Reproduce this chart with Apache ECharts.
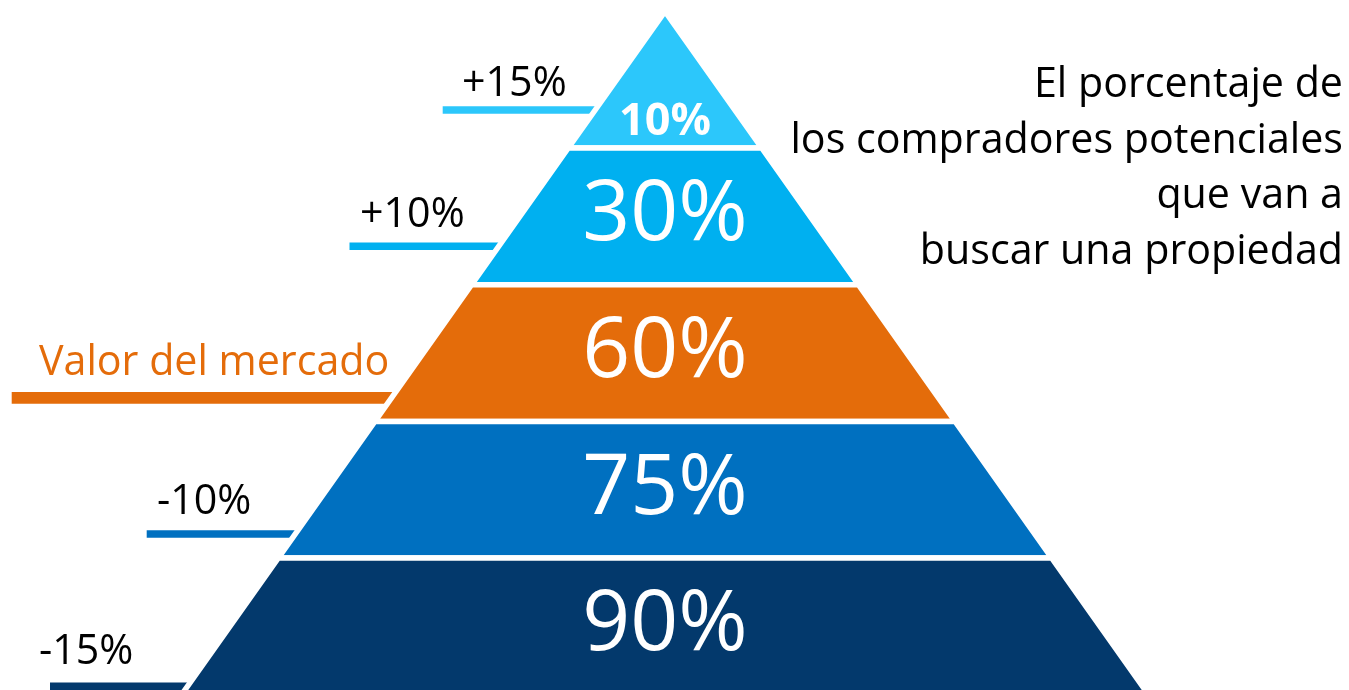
<!DOCTYPE html>
<html>
<head>
<meta charset="utf-8">
<script src="https://cdn.jsdelivr.net/npm/echarts@6/dist/echarts.min.js"></script>
<style>
  html, body { margin: 0; padding: 0; background: #ffffff; }
  #chart { width: 1349px; height: 690px; }
</style>
</head>
<body>
<div id="chart"></div>
<script>
// ---- data (top tier first) ----
const priceLabels = ['+15%', '+10%', 'Valor del mercado', '-10%', '-15%'];
const buyerShare  = [10, 30, 60, 75, 90];           // % of potential buyers per tier
const tierSize    = [1, 2, 3, 4, 5];                // pyramid step (width of tier base)
const tierColors  = ['#2CC7FB', '#00B0F0', '#E46C0A', '#0070C0', '#03396C'];
const titleLines  = ['El porcentaje de', 'los compradores potenciales', 'que van a', 'buscar una propiedad'];

// ---- layout / style ----
const FONT = '"Open Sans", "Noto Sans", sans-serif';
const pyramid = { left: 181.5, top: 11.3, width: 967, height: 683.5 };
// callout placement, relative to each tier's box (fractions of tier height), x in px
const callout = [
  { textX: 462, textF: 0.5345, lineX: 442.7, lineF: 0.7225, lineW: 7.5 },
  { textX: 360, textF: 0.491,  lineX: 349.5, lineF: 0.718,  lineW: 7.5 },
  { textX: 39,  textF: 0.573,  lineX: 11.7,  lineF: 0.828,  lineW: 11.6 },
  { textX: 157, textF: 0.593,  lineX: 146.7, lineF: 0.823,  lineW: 7.5 },
  { textX: 39,  textF: 0.690,  lineX: 50,    lineF: 0.937,  lineW: 7.5 }
];

const chart = echarts.init(document.getElementById('chart'), null, { renderer: 'canvas' });

const baseFunnel = {
  type: 'funnel',
  left: pyramid.left, top: pyramid.top, width: pyramid.width, height: pyramid.height,
  min: 0, max: 5, minSize: '0%', maxSize: '100%',
  sort: 'ascending', gap: 0, funnelAlign: 'center',
  silent: true,
  emphasis: { disabled: true }
};

const option = {
  animation: false,
  backgroundColor: '#ffffff',
  title: {
    text: titleLines.join('\n'),
    left: 'right',
    top: 58,
    padding: [0, 6, 0, 0],
    textStyle: {
      fontFamily: FONT, fontSize: 41.2, fontWeight: 'normal',
      color: '#000000', lineHeight: 55.5
    }
  },
  series: [
    // callouts (drawn beneath the pyramid so their lines tuck under its edge)
    Object.assign({}, baseFunnel, {
      name: 'callouts',
      z: 1,
      itemStyle: { borderWidth: 0 },
      label: {
        show: true, position: 'left',
        fontFamily: FONT, fontSize: 41.2, color: '#000000',
        formatter: '{b}'
      },
      labelLine: { show: true, length: 10 },
      labelLayout: function (p) {
        const c = callout[p.dataIndex];
        const r = p.rect;
        const ly = r.y + r.height * c.lineF;
        return {
          x: c.textX,
          y: r.y + r.height * c.textF,
          align: 'left',
          verticalAlign: 'middle',
          labelLinePoints: [[c.lineX, ly], [r.x + r.width / 2, ly]]
        };
      },
      data: tierSize.map(function (v, i) {
        return {
          name: priceLabels[i],
          value: v,
          itemStyle: { color: tierColors[i] },
          label: { color: i === 2 ? tierColors[2] : '#000000' },
          labelLine: { lineStyle: { width: callout[i].lineW, color: tierColors[i] } }
        };
      })
    }),
    // pyramid with the share of buyers
    Object.assign({}, baseFunnel, {
      name: 'pyramid',
      z: 3,
      itemStyle: { borderColor: '#ffffff', borderWidth: 5.5 },
      label: {
        show: true, position: 'inside',
        fontFamily: FONT, fontSize: 84, color: '#ffffff',
        textBorderWidth: 0,
        formatter: function (p) { return buyerShare[p.dataIndex] + '%'; }
      },
      labelLine: { show: false },
      labelLayout: function (p) {
        if (p.dataIndex !== 0) return null;
        const r = p.rect;
        return {
          x: r.x + r.width / 2,
          y: r.y + r.height * 0.802,
          align: 'center',
          verticalAlign: 'middle'
        };
      },
      data: tierSize.map(function (v, i) {
        const d = { name: priceLabels[i], value: v, itemStyle: { color: tierColors[i] } };
        if (i === 0) d.label = { fontSize: 45, fontWeight: 'bold' };
        return d;
      })
    })
  ]
};

chart.setOption(option);
</script>
</body>
</html>
